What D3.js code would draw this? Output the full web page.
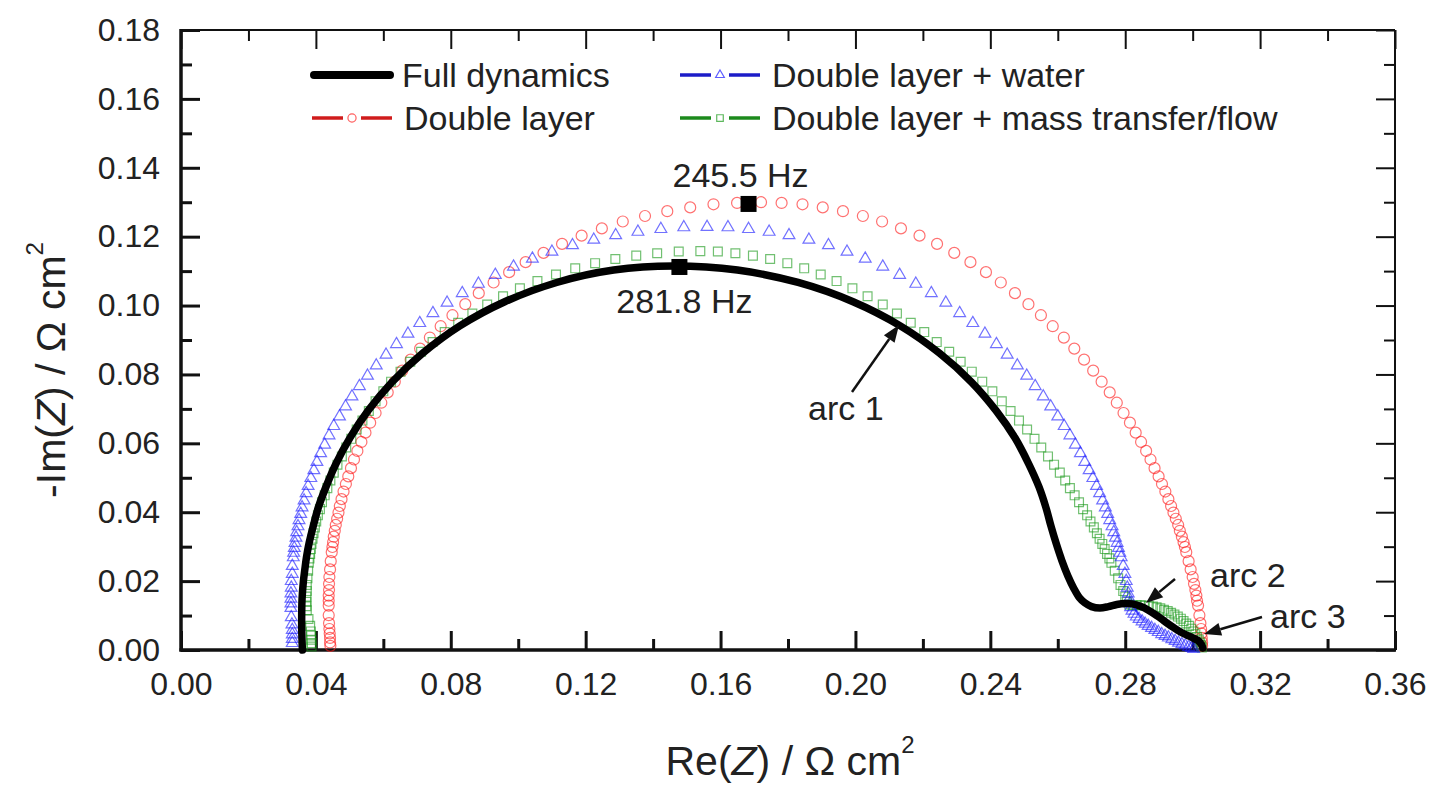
<!DOCTYPE html>
<html><head><meta charset="utf-8">
<script src="https://cdn.jsdelivr.net/npm/d3@7"></script>
<style>
body{margin:0;background:#fff}
svg{display:block}
text{font-family:"Liberation Sans",Arial,Helvetica,sans-serif;fill:#222}
</style>
</head><body>
<svg id="chart" width="1437" height="789"></svg>
<script>
// ---------------- data ----------------
const seriesNames = ["Full dynamics","Double layer","Double layer + water","Double layer + mass transfer/flow"];

const fullDynamics = [[0.0360,0.0000],[0.0358,0.0060],[0.0358,0.0111],[0.0359,0.0149],[0.0363,0.0200],[0.0367,0.0232],[0.0372,0.0269],[0.0380,0.0311],[0.0392,0.0359],[0.0407,0.0413],[0.0430,0.0474],[0.0460,0.0542],[0.0501,0.0616],[0.0555,0.0695],[0.0626,0.0778],[0.0716,0.0861],[0.0827,0.0941],[0.0960,0.1011],[0.1114,0.1067],[0.1283,0.1103],[0.1460,0.1115],[0.1650,0.1103],[0.1830,0.1067],[0.1993,0.1011],[0.2133,0.0941],[0.2250,0.0861],[0.2344,0.0778],[0.2417,0.0695],[0.2473,0.0616],[0.2513,0.0542],[0.2544,0.0474],[0.2565,0.0413],[0.2580,0.0359],[0.2595,0.0310],[0.2612,0.0260],[0.2630,0.0215],[0.2648,0.0178],[0.2664,0.0152],[0.2680,0.0137],[0.2700,0.0126],[0.2725,0.0122],[0.2750,0.0126],[0.2775,0.0132],[0.2800,0.0135],[0.2820,0.0134],[0.2845,0.0127],[0.2870,0.0115],[0.2895,0.0099],[0.2920,0.0081],[0.2945,0.0064],[0.2968,0.0050],[0.2990,0.0040],[0.3005,0.0033],[0.3018,0.0026],[0.3026,0.0016],[0.3030,0.0006]];

const doubleLayer = [[0.0443,0.0012],[0.0442,0.0022],[0.0442,0.0035],[0.0441,0.0048],[0.0440,0.0061],[0.0439,0.0078],[0.0438,0.0101],[0.0438,0.0129],[0.0438,0.0143],[0.0438,0.0158],[0.0439,0.0174],[0.0439,0.0192],[0.0440,0.0212],[0.0442,0.0234],[0.0444,0.0258],[0.0447,0.0284],[0.0449,0.0299],[0.0451,0.0313],[0.0453,0.0329],[0.0456,0.0346],[0.0459,0.0363],[0.0463,0.0381],[0.0467,0.0399],[0.0471,0.0418],[0.0476,0.0438],[0.0482,0.0460],[0.0489,0.0482],[0.0496,0.0504],[0.0504,0.0528],[0.0513,0.0553],[0.0523,0.0578],[0.0535,0.0604],[0.0547,0.0631],[0.0561,0.0660],[0.0577,0.0688],[0.0594,0.0718],[0.0613,0.0748],[0.0634,0.0779],[0.0656,0.0811],[0.0681,0.0843],[0.0709,0.0875],[0.0738,0.0907],[0.0770,0.0940],[0.0805,0.0972],[0.0843,0.1004],[0.0883,0.1036],[0.0927,0.1067],[0.0973,0.1097],[0.1022,0.1126],[0.1075,0.1153],[0.1130,0.1179],[0.1188,0.1203],[0.1248,0.1224],[0.1310,0.1244],[0.1376,0.1260],[0.1442,0.1274],[0.1510,0.1285],[0.1579,0.1294],[0.1649,0.1298],[0.1720,0.1300],[0.1781,0.1298],[0.1843,0.1294],[0.1903,0.1285],[0.1963,0.1274],[0.2022,0.1260],[0.2079,0.1244],[0.2135,0.1224],[0.2190,0.1203],[0.2242,0.1179],[0.2293,0.1153],[0.2341,0.1126],[0.2387,0.1097],[0.2431,0.1067],[0.2473,0.1036],[0.2513,0.1004],[0.2550,0.0972],[0.2585,0.0940],[0.2618,0.0907],[0.2649,0.0875],[0.2678,0.0843],[0.2705,0.0811],[0.2730,0.0779],[0.2754,0.0748],[0.2775,0.0718],[0.2795,0.0688],[0.2814,0.0660],[0.2831,0.0631],[0.2847,0.0604],[0.2862,0.0578],[0.2875,0.0553],[0.2887,0.0528],[0.2899,0.0504],[0.2909,0.0482],[0.2919,0.0460],[0.2928,0.0438],[0.2936,0.0418],[0.2943,0.0399],[0.2950,0.0381],[0.2957,0.0363],[0.2962,0.0346],[0.2968,0.0329],[0.2973,0.0313],[0.2977,0.0299],[0.2981,0.0284],[0.2988,0.0258],[0.2994,0.0234],[0.3000,0.0212],[0.3004,0.0192],[0.3008,0.0174],[0.3011,0.0158],[0.3013,0.0143],[0.3016,0.0129],[0.3020,0.0101],[0.3023,0.0078],[0.3025,0.0061],[0.3026,0.0048],[0.3027,0.0035],[0.3028,0.0022],[0.3028,0.0012]];

const doubleLayerWater = [[0.0330,0.0020],[0.0330,0.0032],[0.0330,0.0045],[0.0330,0.0058],[0.0329,0.0074],[0.0327,0.0095],[0.0326,0.0122],[0.0326,0.0135],[0.0326,0.0149],[0.0326,0.0164],[0.0327,0.0181],[0.0327,0.0200],[0.0330,0.0221],[0.0330,0.0244],[0.0333,0.0269],[0.0334,0.0282],[0.0336,0.0296],[0.0338,0.0311],[0.0341,0.0326],[0.0343,0.0342],[0.0347,0.0359],[0.0350,0.0377],[0.0355,0.0395],[0.0359,0.0414],[0.0365,0.0434],[0.0371,0.0455],[0.0377,0.0476],[0.0385,0.0499],[0.0394,0.0522],[0.0403,0.0546],[0.0414,0.0571],[0.0426,0.0596],[0.0439,0.0623],[0.0453,0.0650],[0.0470,0.0678],[0.0488,0.0707],[0.0507,0.0736],[0.0529,0.0766],[0.0553,0.0796],[0.0579,0.0826],[0.0608,0.0857],[0.0639,0.0888],[0.0673,0.0918],[0.0708,0.0949],[0.0747,0.0978],[0.0789,0.1008],[0.0834,0.1036],[0.0882,0.1063],[0.0932,0.1089],[0.0986,0.1113],[0.1042,0.1136],[0.1100,0.1156],[0.1161,0.1175],[0.1224,0.1191],[0.1289,0.1204],[0.1355,0.1214],[0.1423,0.1222],[0.1491,0.1227],[0.1560,0.1228],[0.1622,0.1227],[0.1683,0.1222],[0.1744,0.1214],[0.1803,0.1204],[0.1862,0.1191],[0.1920,0.1175],[0.1975,0.1156],[0.2029,0.1136],[0.2081,0.1113],[0.2131,0.1089],[0.2179,0.1063],[0.2225,0.1036],[0.2268,0.1008],[0.2309,0.0978],[0.2348,0.0949],[0.2384,0.0918],[0.2418,0.0888],[0.2450,0.0857],[0.2480,0.0826],[0.2508,0.0796],[0.2533,0.0766],[0.2557,0.0736],[0.2579,0.0707],[0.2600,0.0678],[0.2619,0.0650],[0.2636,0.0623],[0.2652,0.0596],[0.2667,0.0571],[0.2680,0.0546],[0.2693,0.0522],[0.2704,0.0499],[0.2715,0.0476],[0.2724,0.0455],[0.2733,0.0434],[0.2741,0.0414],[0.2748,0.0395],[0.2754,0.0377],[0.2761,0.0359],[0.2766,0.0342],[0.2771,0.0326],[0.2776,0.0311],[0.2780,0.0296],[0.2784,0.0282],[0.2788,0.0269],[0.2794,0.0244],[0.2799,0.0221],[0.2803,0.0200],[0.2806,0.0181],[0.2809,0.0164],[0.2812,0.0149],[0.2814,0.0135],[0.2816,0.0124],[0.2820,0.0114],[0.2826,0.0105],[0.2833,0.0097],[0.2841,0.0090],[0.2850,0.0083],[0.2859,0.0076],[0.2868,0.0070],[0.2878,0.0064],[0.2888,0.0058],[0.2898,0.0052],[0.2908,0.0046],[0.2918,0.0041],[0.2928,0.0036],[0.2938,0.0031],[0.2948,0.0026],[0.2958,0.0021],[0.2968,0.0017],[0.2978,0.0013],[0.2988,0.0009],[0.2996,0.0006],[0.3003,0.0003]];

const doubleLayerMassFlow = [[0.0387,0.0010],[0.0387,0.0020],[0.0386,0.0030],[0.0386,0.0042],[0.0385,0.0054],[0.0383,0.0070],[0.0378,0.0090],[0.0373,0.0115],[0.0372,0.0127],[0.0372,0.0140],[0.0372,0.0155],[0.0373,0.0171],[0.0373,0.0189],[0.0375,0.0208],[0.0377,0.0230],[0.0379,0.0253],[0.0381,0.0266],[0.0383,0.0279],[0.0385,0.0293],[0.0387,0.0308],[0.0390,0.0323],[0.0393,0.0339],[0.0397,0.0356],[0.0401,0.0373],[0.0406,0.0391],[0.0412,0.0409],[0.0418,0.0429],[0.0426,0.0449],[0.0434,0.0470],[0.0443,0.0492],[0.0453,0.0515],[0.0464,0.0538],[0.0477,0.0562],[0.0490,0.0588],[0.0505,0.0613],[0.0521,0.0640],[0.0538,0.0666],[0.0557,0.0694],[0.0577,0.0722],[0.0600,0.0751],[0.0623,0.0779],[0.0651,0.0808],[0.0680,0.0837],[0.0712,0.0866],[0.0746,0.0894],[0.0782,0.0923],[0.0822,0.0950],[0.0864,0.0977],[0.0908,0.1003],[0.0955,0.1027],[0.1005,0.1050],[0.1057,0.1071],[0.1112,0.1090],[0.1169,0.1108],[0.1228,0.1123],[0.1288,0.1135],[0.1350,0.1145],[0.1412,0.1152],[0.1476,0.1157],[0.1540,0.1158],[0.1592,0.1157],[0.1644,0.1152],[0.1696,0.1145],[0.1747,0.1135],[0.1798,0.1123],[0.1848,0.1108],[0.1897,0.1090],[0.1944,0.1071],[0.1991,0.1050],[0.2036,0.1027],[0.2081,0.1003],[0.2123,0.0977],[0.2164,0.0950],[0.2204,0.0923],[0.2241,0.0894],[0.2278,0.0866],[0.2312,0.0837],[0.2345,0.0808],[0.2376,0.0779],[0.2406,0.0751],[0.2434,0.0722],[0.2460,0.0694],[0.2485,0.0666],[0.2509,0.0640],[0.2531,0.0613],[0.2551,0.0588],[0.2571,0.0562],[0.2589,0.0538],[0.2606,0.0515],[0.2622,0.0492],[0.2636,0.0470],[0.2650,0.0449],[0.2663,0.0429],[0.2675,0.0409],[0.2687,0.0391],[0.2697,0.0373],[0.2707,0.0356],[0.2716,0.0339],[0.2724,0.0323],[0.2732,0.0308],[0.2739,0.0293],[0.2746,0.0279],[0.2753,0.0266],[0.2759,0.0253],[0.2769,0.0230],[0.2779,0.0208],[0.2786,0.0189],[0.2794,0.0171],[0.2800,0.0155],[0.2805,0.0140],[0.2812,0.0132],[0.2822,0.0130],[0.2834,0.0130],[0.2846,0.0130],[0.2858,0.0129],[0.2870,0.0128],[0.2882,0.0126],[0.2893,0.0124],[0.2904,0.0121],[0.2915,0.0117],[0.2926,0.0113],[0.2936,0.0108],[0.2946,0.0103],[0.2956,0.0097],[0.2965,0.0091],[0.2973,0.0084],[0.2981,0.0077],[0.2989,0.0070],[0.2996,0.0062],[0.3002,0.0054],[0.3008,0.0046],[0.3013,0.0038],[0.3018,0.0030],[0.3022,0.0022],[0.3025,0.0014],[0.3027,0.0007]];

const xTicks = [0.00,0.04,0.08,0.12,0.16,0.20,0.24,0.28,0.32,0.36];
const xMinorTicks = [0.02,0.06,0.10,0.14,0.18,0.22,0.26,0.30,0.34];
const yTicks = [0.00,0.02,0.04,0.06,0.08,0.10,0.12,0.14,0.16,0.18];
const yMinorTicks = [0.01,0.03,0.05,0.07,0.09,0.11,0.13,0.15,0.17];

const freqLabels = ["245.5 Hz","281.8 Hz"];
const freqPoints = [[0.1683,0.1295],[0.1478,0.1112]];
const arcLabels = ["arc 1","arc 2","arc 3"];

// ---------------- drawing ----------------
const svg = d3.select("#chart");
const L=181, R=1395, T=30, B=650;
const x = d3.scaleLinear().domain([0,0.36]).range([L,R]);
const y = d3.scaleLinear().domain([0,0.18]).range([B,T]);
const fmt = d3.format(".2f");
const MAJ=19, MIN=11;

function styleAxis(g, w){
  g.select(".domain").remove();
  g.selectAll(".tick line").attr("stroke","#111").attr("stroke-width",w);
  g.selectAll(".tick text").attr("font-size",32).attr("fill","#222")
   .attr("font-family",'"Liberation Sans",Arial,sans-serif');
}
svg.append("g").attr("transform",`translate(0,${B})`)
  .call(d3.axisBottom(x).tickValues(xTicks).tickFormat(fmt).tickSizeInner(-MAJ).tickSizeOuter(0).tickPadding(22))
  .call(g=>styleAxis(g,3));
svg.append("g").attr("transform",`translate(0,${B})`)
  .call(d3.axisBottom(x).tickValues(xMinorTicks).tickFormat("").tickSizeInner(-MIN).tickSizeOuter(0))
  .call(g=>styleAxis(g,3));
svg.append("g").attr("transform",`translate(0,${T})`)
  .call(d3.axisTop(x).tickValues(xTicks).tickFormat("").tickSizeInner(-MAJ).tickSizeOuter(0))
  .call(g=>styleAxis(g,2));
svg.append("g").attr("transform",`translate(0,${T})`)
  .call(d3.axisTop(x).tickValues(xMinorTicks).tickFormat("").tickSizeInner(-MIN).tickSizeOuter(0))
  .call(g=>styleAxis(g,2));
svg.append("g").attr("transform",`translate(${L},0)`)
  .call(d3.axisLeft(y).tickValues(yTicks).tickFormat(fmt).tickSizeInner(-MAJ).tickSizeOuter(0).tickPadding(21))
  .call(g=>styleAxis(g,3));
svg.append("g").attr("transform",`translate(${L},0)`)
  .call(d3.axisLeft(y).tickValues(yMinorTicks).tickFormat("").tickSizeInner(-MIN).tickSizeOuter(0))
  .call(g=>styleAxis(g,3));
svg.append("g").attr("transform",`translate(${R},0)`)
  .call(d3.axisRight(y).tickValues(yTicks).tickFormat("").tickSizeInner(-MAJ).tickSizeOuter(0))
  .call(g=>styleAxis(g,2));
svg.append("g").attr("transform",`translate(${R},0)`)
  .call(d3.axisRight(y).tickValues(yMinorTicks).tickFormat("").tickSizeInner(-MIN).tickSizeOuter(0))
  .call(g=>styleAxis(g,2));

const frame = svg.append("g").attr("stroke","#111").attr("fill","none");
frame.append("line").attr("x1",L).attr("x2",R).attr("y1",T).attr("y2",T).attr("stroke-width",2);
frame.append("line").attr("x1",R).attr("x2",R).attr("y1",T).attr("y2",B).attr("stroke-width",2);
frame.append("line").attr("x1",L).attr("x2",L).attr("y1",T-1).attr("y2",B+1.5).attr("stroke-width",3.5);
frame.append("line").attr("x1",L-1.5).attr("x2",R+1).attr("y1",B).attr("y2",B).attr("stroke-width",3.5);

const styles = {
  red:  {type:d3.symbolCircle,   size:95, color:"#ff1a1a"},
  blue: {type:d3.symbolTriangle, size:60, color:"#1a1aff"},
  green:{type:d3.symbolSquare,   size:78, color:"#1a9a1a"}
};
function drawMarkers(data, st){
  svg.append("g").selectAll("path").data(data).join("path")
    .attr("transform", d=>`translate(${x(d[0])},${y(d[1])})`)
    .attr("d", d3.symbol().type(st.type).size(st.size)())
    .attr("fill","none").attr("stroke",st.color)
    .attr("stroke-width",1.2).attr("stroke-opacity",0.62);
}
drawMarkers(doubleLayer, styles.red);
drawMarkers(doubleLayerMassFlow, styles.green);
drawMarkers(doubleLayerWater, styles.blue);

const line = d3.line().x(d=>x(d[0])).y(d=>y(d[1])).curve(d3.curveCatmullRom.alpha(0.5));
svg.append("path").datum(fullDynamics).attr("d",line)
  .attr("fill","none").attr("stroke","#000").attr("stroke-width",7.5)
  .attr("stroke-linejoin","round").attr("stroke-linecap","round");

svg.append("g").selectAll("rect").data(freqPoints).join("rect")
  .attr("x",d=>x(d[0])-8).attr("y",d=>y(d[1])-8).attr("width",16).attr("height",16).attr("fill","#000");
const FS=34;
svg.append("text").attr("x",x(freqPoints[0][0])-8).attr("y",y(freqPoints[0][1])-17)
  .attr("text-anchor","middle").attr("font-size",FS).text(freqLabels[0]);
svg.append("text").attr("x",x(freqPoints[1][0])+5).attr("y",y(freqPoints[1][1])+46)
  .attr("text-anchor","middle").attr("font-size",FS).text(freqLabels[1]);

const arrows = [
  {label:arcLabels[0], tx:808, ty:420, x1:852, y1:392, x2:899, y2:325},
  {label:arcLabels[1], tx:1210, ty:587, x1:1175, y1:579, x2:1146, y2:603},
  {label:arcLabels[2], tx:1270, ty:628, x1:1262, y1:617, x2:1204, y2:634}
];
arrows.forEach(a=>{
  svg.append("text").attr("x",a.tx).attr("y",a.ty).attr("font-size",FS).text(a.label);
  const ang = Math.atan2(a.y2-a.y1, a.x2-a.x1);
  const hl=17, hw=6.5;
  const bx=a.x2-hl*Math.cos(ang), by=a.y2-hl*Math.sin(ang);
  svg.append("line").attr("x1",a.x1).attr("y1",a.y1).attr("x2",bx).attr("y2",by)
    .attr("stroke","#111").attr("stroke-width",2.5);
  const p=[[a.x2,a.y2],[bx+hw*Math.sin(ang),by-hw*Math.cos(ang)],[bx-hw*Math.sin(ang),by+hw*Math.cos(ang)]];
  svg.append("path").attr("d","M"+p.map(q=>q.join(",")).join("L")+"Z").attr("fill","#111");
});

const lg = svg.append("g");
const rows=[75,118];
lg.append("line").attr("x1",314).attr("x2",390).attr("y1",rows[0]).attr("y2",rows[0])
  .attr("stroke","#000").attr("stroke-width",8).attr("stroke-linecap","round");
lg.append("text").attr("x",402).attr("y",rows[0]+12).attr("font-size",FS).text(seriesNames[0]);
function legendSym(cx, cy, lineColor, st, label){
  lg.append("line").attr("x1",cx-40).attr("x2",cx-9).attr("y1",cy).attr("y2",cy).attr("stroke",lineColor).attr("stroke-width",3.5);
  lg.append("line").attr("x1",cx+9).attr("x2",cx+40).attr("y1",cy).attr("y2",cy).attr("stroke",lineColor).attr("stroke-width",3.5);
  lg.append("path").attr("transform",`translate(${cx},${cy})`).attr("d",d3.symbol().type(st.type).size(st.size*0.55)())
    .attr("fill","none").attr("stroke",st.color).attr("stroke-width",1.2).attr("stroke-opacity",0.7);
  lg.append("text").attr("x",cx+52).attr("y",cy+12).attr("font-size",FS).text(label);
}
legendSym(352, rows[1], "#d01c1c", styles.red, seriesNames[1]);
legendSym(720, rows[0], "#1c1cc8", styles.blue, seriesNames[2]);
legendSym(720, rows[1], "#1c8a1c", styles.green, seriesNames[3]);

const xt = svg.append("text").attr("x",(L+R)/2+2).attr("y",775).attr("text-anchor","middle").attr("font-size",41);
xt.append("tspan").text("Re(");
xt.append("tspan").attr("font-style","italic").text("Z");
xt.append("tspan").text(") / Ω cm");
xt.append("tspan").attr("font-size",24).attr("dy",-22).text("2");

const yt = svg.append("text").attr("transform","translate(65,370) rotate(-90)").attr("text-anchor","middle").attr("font-size",41);
yt.append("tspan").text("-Im(");
yt.append("tspan").attr("font-style","italic").text("Z");
yt.append("tspan").text(") / Ω cm");
yt.append("tspan").attr("font-size",24).attr("dy",-22).text("2");
</script>
</body></html>
